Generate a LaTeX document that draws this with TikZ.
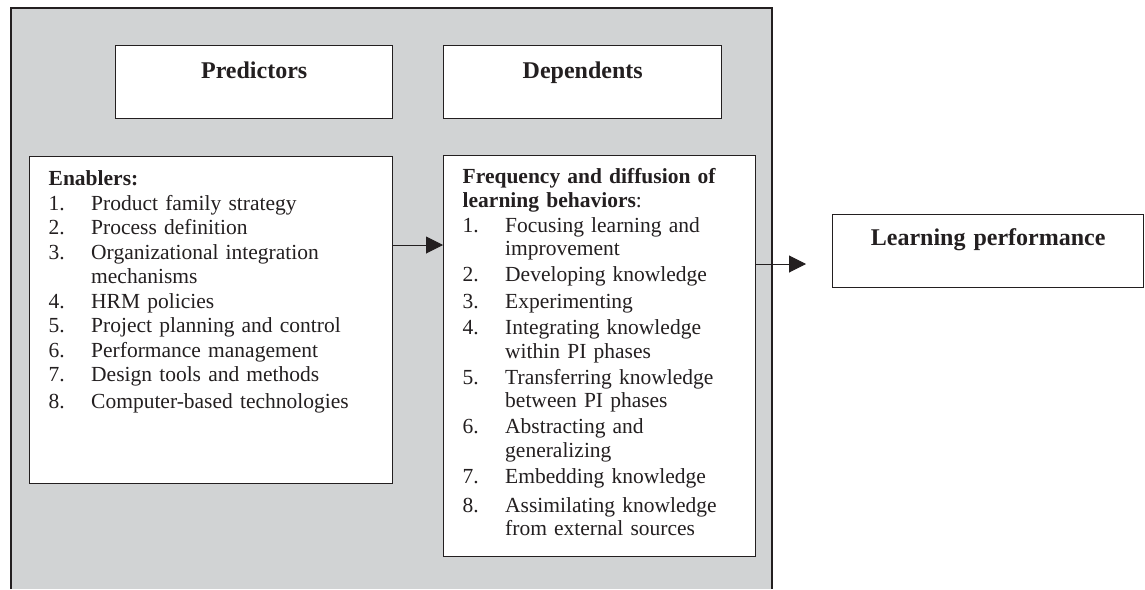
\documentclass[tikz,border=0pt]{standalone}
\usepackage{fontspec}
\setmainfont{Liberation Serif}
\usepackage{xcolor}
\usepackage{tikz}
\usetikzlibrary{positioning}
\usetikzlibrary{arrows.meta}
\pgfdeclarelayer{nodelayer}
\pgfdeclarelayer{edgelayer}
\pgfsetlayers{nodelayer,edgelayer,main}
\definecolor{panelgray}{HTML}{D1D3D4}
\definecolor{ink}{HTML}{231F20}
\tikzset{
  box/.style={draw=ink, line width=1.4pt, fill=white, text=ink, inner sep=0pt, anchor=north west},
  headbox/.style={box, align=center, font=\fontsize{24}{28}\selectfont\bfseries, text height=33pt, text depth=40pt},
  listbox/.style={box, inner xsep=19pt},
  flow/.style={draw=ink, line width=1pt, -{Triangle[length=17pt,width=17pt]}},
}

\begin{document}
\begin{tikzpicture}[x=1pt, y=-1pt]
  \useasboundingbox (0,0) rectangle (1145,589);
  \begin{pgfonlayer}{nodelayer}
    \fill [panelgray] (11,8) rectangle (772,589);
    \draw [ink, line width=1.3pt] (11,589) -- (11,8) -- (772,8) -- (772,589);
    \node [headbox, text width=277pt] (0) at (115,45) {Predictors};
    \node [headbox, text width=278pt] (1) at (443,45) {Dependents};
    \node [listbox, text width=325pt, text height=29pt, text depth=298pt,
           font=\fontsize{21.5}{24.5}\selectfont] (2) at (29,156) {%
      \begin{tabular}[t]{@{}p{42.5pt}@{}l@{}}
        \multicolumn{2}{@{}l@{}}{\textbf{Enablers:}}\\
        1. & Product family strategy\\
        2. & Process definition\\
        3. & Organizational integration\\
           & mechanisms\\
        4. & HRM policies\\
        5. & Project planning and control\\
        6. & Performance management\\
        7. & Design tools and methods\\[2.5pt]
        8. & Computer-based technologies
      \end{tabular}};
    \node [listbox, text width=274pt, text height=28pt, text depth=373pt,
           font=\fontsize{21.5}{23.5}\selectfont] (3) at (443,155) {%
      \begin{tabular}[t]{@{}p{42.5pt}@{}l@{}}
        \multicolumn{2}{@{}l@{}}{\textbf{Frequency and diffusion of}}\\
        \multicolumn{2}{@{}l@{}}{\textbf{learning behaviors}:}\\[1.5pt]
        1. & Focusing learning and\\
           & improvement\\[2.5pt]
        2. & Developing knowledge\\[3.5pt]
        3. & Experimenting\\[2.5pt]
        4. & Integrating knowledge\\
           & within PI phases\\[2.5pt]
        5. & Transferring knowledge\\
           & between PI phases\\[2.5pt]
        6. & Abstracting and\\
           & generalizing\\[2.5pt]
        7. & Embedding knowledge\\[5.5pt]
        8. & Assimilating knowledge\\
           & from external sources
      \end{tabular}};
    \node [headbox, text width=311pt, text height=31pt, text depth=42pt] (4) at (832,214) {Learning performance};
    \coordinate (5) at (0,245);
    \coordinate (6) at (806,264);
  \end{pgfonlayer}
  \begin{pgfonlayer}{edgelayer}
    \draw [flow] (2.east |- 5) to (3.west |- 5);
    \draw [flow] (3.east |- 6) to (6);
  \end{pgfonlayer}
\end{tikzpicture}
\end{document}
